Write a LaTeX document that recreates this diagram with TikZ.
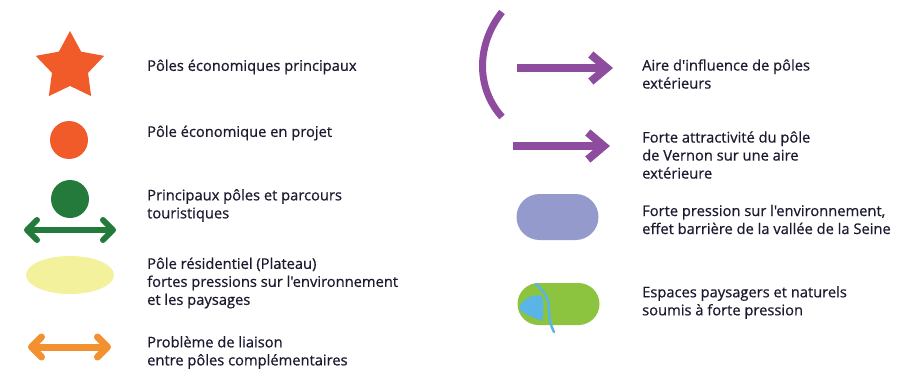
\documentclass[tikz,border=0pt]{standalone}
\usepackage{fontspec}
\setmainfont{Open Sans}
\newfontfamily\legfont{Open Sans}[FakeBold=0.7]
\usetikzlibrary{arrows.meta,shapes.geometric,shapes.misc}

\definecolor{poleorange}{HTML}{F15A29}
\definecolor{tourgreen}{HTML}{237A3B}
\definecolor{resyellow}{HTML}{F3F19C}
\definecolor{linkorange}{HTML}{F39130}
\definecolor{influpurple}{HTML}{8E4C9E}
\definecolor{valleyblue}{HTML}{959ACD}
\definecolor{natgreen}{HTML}{8CC43F}
\definecolor{riverblue}{HTML}{5AB4E5}
\definecolor{legink}{HTML}{1B1B30}

\tikzset{
  legtext/.style={anchor=west, align=left, inner sep=0pt, text=legink,
    font=\legfont\fontsize{14.7}{18}\selectfont},
  dblarrow/.style={{Straight Barb[length=10pt,width=20pt,round]}-{Straight Barb[length=10pt,width=20pt,round]}},
  purplearrow/.style={line width=8pt, influpurple, -{Straight Barb[length=16pt,width=27pt]}},
  stadium/.style={rounded rectangle, inner sep=0pt, minimum width=82pt, minimum height=44pt}
}

\begin{document}
\begin{tikzpicture}[x=1pt, y=-1pt, line join=round]
	% Fix the bounding box to the reference size
	\useasboundingbox (0,0) rectangle (917,369);

	% Left column: symbols
	\node[star, star points=5, star point ratio=1.9, minimum size=72pt, inner sep=0pt,
	  fill=poleorange] (mainpole) at (70,67) {};
	\node[circle, fill=poleorange, minimum size=38pt, inner sep=0pt] (projpole) at (69,140) {};
	\node[circle, fill=tourgreen, minimum size=38pt, inner sep=0pt] (tourpole) at (70,199) {};
	\coordinate (tourL) at (24,230);
	\coordinate (tourR) at (116,230);
	\draw[dblarrow, line width=6pt, tourgreen] (tourL) -- (tourR);
	\node[ellipse, fill=resyellow, minimum width=88pt, minimum height=38pt, inner sep=0pt] (respole) at (70,275) {};
	\coordinate (linkL) at (28,347);
	\coordinate (linkR) at (111,347);
	\draw[dblarrow, line width=7pt, linkorange] (linkL) -- (linkR);

	% Left column: labels
	\node[legtext] (mainlab) at (147,67) {Pôles économiques principaux};
	\node[legtext] (projlab) at (147,133) {Pôle économique en projet};
	\node[legtext] (tourlab) at (147,205.5) {Principaux pôles et parcours\\touristiques};
	\node[legtext] (reslab) at (147,283) {Pôle résidentiel (Plateau)\\fortes pressions sur l'environnement\\et les paysages};
	\node[legtext] (linklab) at (147,352.5) {Problème de liaison\\entre pôles complémentaires};

	% Right column: purple arc and arrows
	\coordinate (arcT) at (502,12);
	\coordinate (arcB) at (502,117);
	\draw[line width=7pt, influpurple] (arcT) .. controls (476,45) and (476,88) .. (arcB);
	\coordinate (inflA) at (517,68);
	\coordinate (inflB) at (613,68);
	\draw[purplearrow] (inflA) -- (inflB);
	\coordinate (vernA) at (513,146);
	\coordinate (vernB) at (610,146);
	\draw[purplearrow] (vernA) -- (vernB);

	% Right column: pressure areas
	\node[stadium, fill=valleyblue, minimum height=46pt] (valley) at (557.5,217) {};
	\node[stadium, fill=natgreen, minimum height=42pt] (natural) at (558.5,304) {};
	\begin{scope}
		\clip (517,283) rectangle (600,325);
		\fill[riverblue] (520,305) .. controls (526,297) and (534,294) .. (542,296)
		  .. controls (544,305) and (544,313) .. (542,321)
		  .. controls (532,317) and (524,314) .. (520,310) -- cycle;
	\end{scope}
	\draw[riverblue, line width=2.5pt, line cap=round] (536,284) .. controls (544,292) and (549,298) .. (549,308)
	  .. controls (549,318) and (550,324) .. (554,332);

	% Right column: labels
	\node[legtext] (infllab) at (642,74) {Aire d'influence de pôles\\extérieurs};
	\node[legtext] (vernlab) at (642,155) {Forte attractivité du pôle\\de Vernon sur une aire\\extérieure};
	\node[legtext] (valleylab) at (642,219.5) {Forte pression sur l'environnement,\\effet barrière de la vallée de la Seine};
	\node[legtext] (natlab) at (642,302.5) {Espaces paysagers et naturels\\soumis à forte pression};
\end{tikzpicture}
\end{document}
